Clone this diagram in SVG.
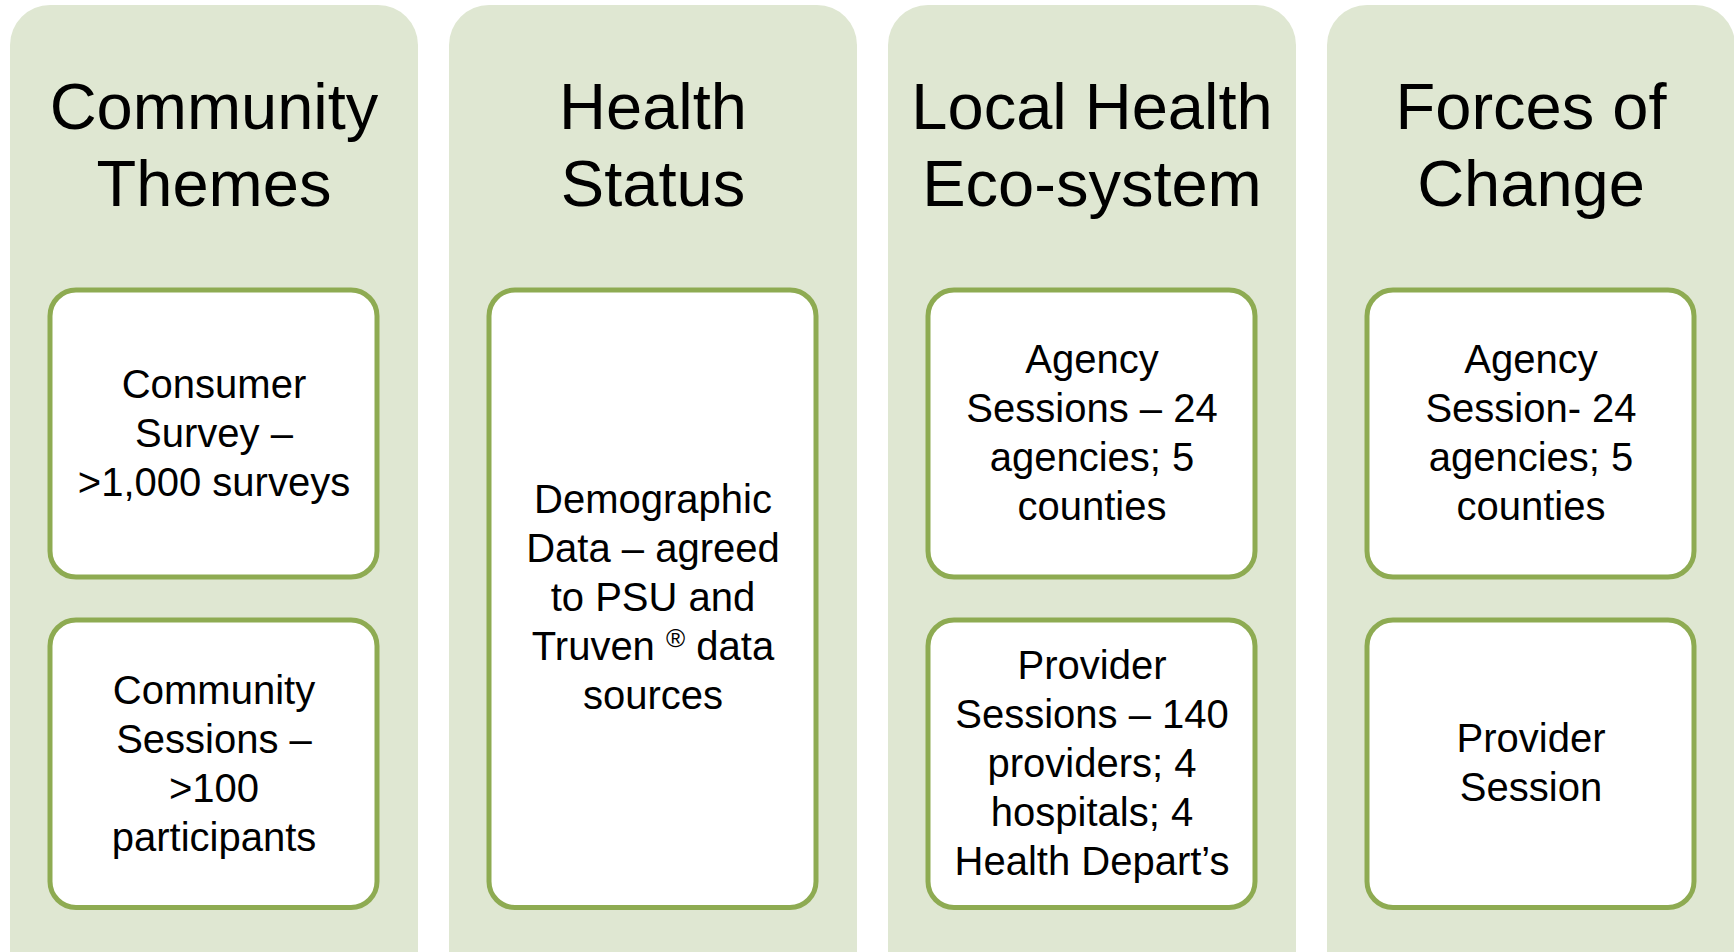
<svg xmlns="http://www.w3.org/2000/svg" width="1734" height="952" viewBox="0 0 1734 952">
<style>
.panel{fill:#DFE7D2;}
.box{fill:#FFFFFF;stroke:#8EAB52;stroke-width:5;}
.title{font-family:"Liberation Sans",Arial,sans-serif;font-size:65px;fill:#000;text-anchor:middle;}
.body{font-family:"Liberation Sans",Arial,sans-serif;font-size:40px;fill:#000;text-anchor:middle;}
</style>
<rect width="1734" height="952" fill="#FFFFFF"/>

<g id="col-community-themes">
  <rect class="panel" x="10" y="5" width="408" height="990" rx="40" ry="40"/>
  <text class="title" x="214" y="129">Community</text>
  <text class="title" x="214" y="206">Themes</text>
</g>
<g id="node-consumer-survey">
  <rect class="box" x="50" y="290" width="327" height="287" rx="26" ry="26"/>
  <text class="body" x="214" y="398">Consumer</text>
  <text class="body" x="214" y="447">Survey –</text>
  <text class="body" x="214" y="496">&gt;1,000 surveys</text>
</g>
<g id="node-community-sessions">
  <rect class="box" x="50" y="620" width="327" height="287.5" rx="26" ry="26"/>
  <text class="body" x="214" y="704">Community</text>
  <text class="body" x="214" y="753">Sessions –</text>
  <text class="body" x="214" y="802">&gt;100</text>
  <text class="body" x="214" y="851">participants</text>
</g>

<g id="col-health-status">
  <rect class="panel" x="449" y="5" width="408" height="990" rx="40" ry="40"/>
  <text class="title" x="653" y="129">Health</text>
  <text class="title" x="653" y="206">Status</text>
</g>
<g id="node-demographic-data">
  <rect class="box" x="489" y="290" width="327" height="617.5" rx="26" ry="26"/>
  <text class="body" x="653" y="513">Demographic</text>
  <text class="body" x="653" y="562">Data – agreed</text>
  <text class="body" x="653" y="611">to PSU and</text>
  <text class="body" x="653" y="660">Truven <tspan font-size="26" dy="-13">®</tspan><tspan dy="13"> data</tspan></text>
  <text class="body" x="653" y="709">sources</text>
</g>

<g id="col-local-health-ecosystem">
  <rect class="panel" x="888" y="5" width="408" height="990" rx="40" ry="40"/>
  <text class="title" x="1092" y="129">Local Health</text>
  <text class="title" x="1092" y="206">Eco-system</text>
</g>
<g id="node-agency-sessions">
  <rect class="box" x="928" y="290" width="327" height="287" rx="26" ry="26"/>
  <text class="body" x="1092" y="373">Agency</text>
  <text class="body" x="1092" y="422">Sessions – 24</text>
  <text class="body" x="1092" y="471">agencies; 5</text>
  <text class="body" x="1092" y="520">counties</text>
</g>
<g id="node-provider-sessions">
  <rect class="box" x="928" y="620" width="327" height="287.5" rx="26" ry="26"/>
  <text class="body" x="1092" y="679">Provider</text>
  <text class="body" x="1092" y="728">Sessions – 140</text>
  <text class="body" x="1092" y="777">providers; 4</text>
  <text class="body" x="1092" y="826">hospitals; 4</text>
  <text class="body" x="1092" y="875">Health Depart’s</text>
</g>

<g id="col-forces-of-change">
  <rect class="panel" x="1327" y="5" width="408" height="990" rx="40" ry="40"/>
  <text class="title" x="1531" y="129">Forces of</text>
  <text class="title" x="1531" y="206">Change</text>
</g>
<g id="node-agency-session">
  <rect class="box" x="1367" y="290" width="327" height="287" rx="26" ry="26"/>
  <text class="body" x="1531" y="373">Agency</text>
  <text class="body" x="1531" y="422">Session- 24</text>
  <text class="body" x="1531" y="471">agencies; 5</text>
  <text class="body" x="1531" y="520">counties</text>
</g>
<g id="node-provider-session">
  <rect class="box" x="1367" y="620" width="327" height="287.5" rx="26" ry="26"/>
  <text class="body" x="1531" y="752">Provider</text>
  <text class="body" x="1531" y="801">Session</text>
</g>

<g id="connectors"></g>
</svg>
